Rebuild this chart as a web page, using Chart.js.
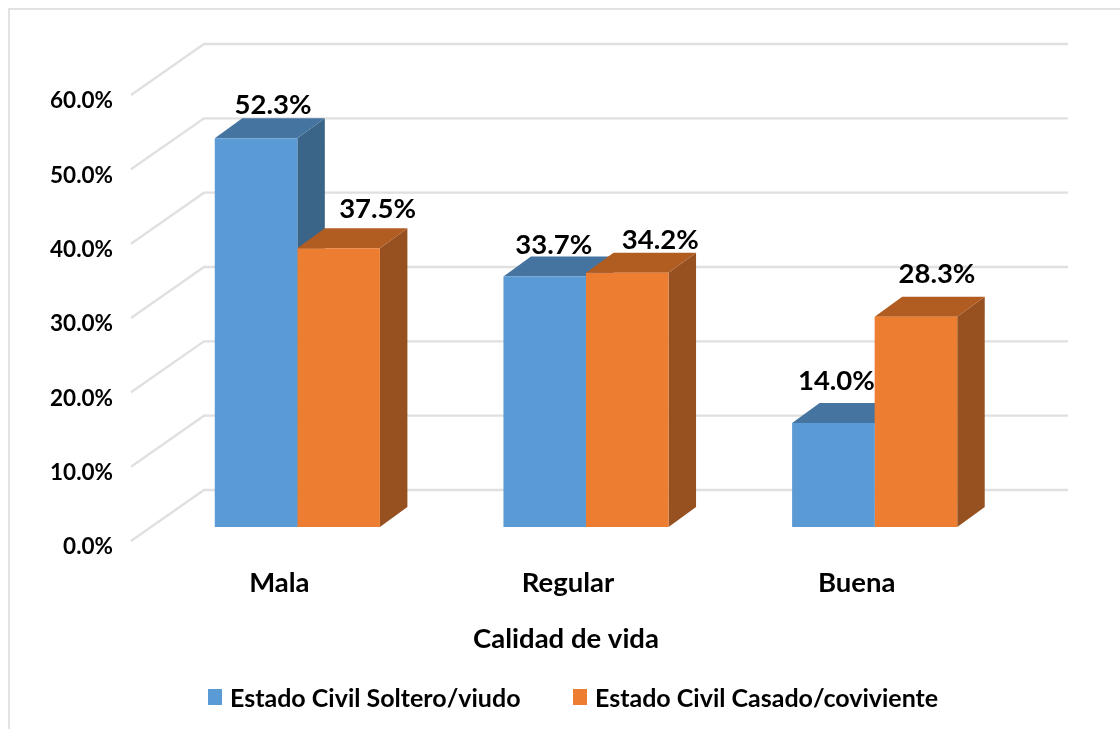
<!DOCTYPE html>
<html><head><meta charset="utf-8">
<style>html,body{margin:0;padding:0;background:#fff;overflow:hidden}#frame{position:absolute;left:8px;top:8px;right:0;bottom:0;border-left:2px solid #e2e2e2;border-top:2px solid #e2e2e2}canvas{position:absolute;left:0;top:0}</style>
<script src="https://cdn.jsdelivr.net/npm/chart.js@4"></script>
</head><body><div id="frame"></div><canvas id="c" width="1120" height="729"></canvas>
<script>
const categories = ["Mala", "Regular", "Buena"];
const seriesSoltero = [52.3, 33.7, 14.0];
const seriesCasado = [37.5, 34.2, 28.3];
const seriesNames = ["Estado Civil Soltero/viudo", "Estado Civil Casado/coviviente"];
const axisTitle = "Calidad de vida";

const FONT = "Lato, Carlito, sans-serif";
const depthX = 27.5, depthY = -20;
const wallDX = 73, wallTop = -37, wallFront = 14, wallRight = 1068;
const faces = [{top:"#44749F", side:"#3A6488"},{top:"#B15D22", side:"#975020"}];
const fronts = ["#5B9BD5", "#ED7D31"];
const legendBoxX = [208, 573];
// label nudges (dx, dy) relative to each bar's centre and top
const nudges = [[[17,-33],[9,-31],[3,-42]],[[39,-39],[33,-33],[21,-43]]];

function poly(ctx, pts, fill){
  ctx.beginPath();
  pts.forEach((p,i)=> i?ctx.lineTo(p[0],p[1]):ctx.moveTo(p[0],p[1]));
  ctx.closePath(); ctx.fillStyle = fill; ctx.fill();
}

const chart3d = {
  id:"chart3d",
  beforeDatasetsDraw(chart){
    const ctx = chart.ctx, y = chart.scales.y, x = chart.scales.x;
    ctx.save();
    ctx.strokeStyle = "#E0E0E0"; ctx.lineWidth = 2.4; ctx.lineJoin = "miter";
    y.ticks.forEach(t=>{
      const p = y.getPixelForValue(t.value);
      const wx = x.left - 22;
      ctx.beginPath();
      ctx.moveTo(wx, p + wallFront);
      ctx.lineTo(wx + wallDX, p + wallTop);
      ctx.lineTo(wallRight, p + wallTop);
      ctx.stroke();
    });
    categories.forEach((_,i)=>{
      [0,1].forEach(d=>{
        const b = chart.getDatasetMeta(d).data[i];
        const l = b.x - b.width/2, r = b.x + b.width/2, t = b.y, bt = b.base;
        poly(ctx, [[r,t],[r+depthX,t+depthY],[r+depthX,bt+depthY],[r,bt]], faces[d].side);
        poly(ctx, [[l,t],[l+depthX,t+depthY],[r+depthX,t+depthY],[r,t]], faces[d].top);
      });
    });
    ctx.restore();
  },
  afterDatasetsDraw(chart){
    const ctx = chart.ctx;
    ctx.save();
    ctx.fillStyle = "#000"; ctx.textAlign = "center"; ctx.textBaseline = "middle";
    ctx.font = "bold 27.5px " + FONT;
    chart.data.datasets.forEach((ds,d)=>{
      chart.getDatasetMeta(d).data.forEach((b,i)=>{
        ctx.fillText(ds.data[i].toFixed(1)+"%", b.x + nudges[d][i][0], b.y + nudges[d][i][1]);
      });
    });
    ctx.fillText(axisTitle, 566, 639);
    ctx.textAlign = "left";
    ctx.font = "bold 25px " + FONT;
    chart.data.datasets.forEach((ds,d)=>{
      ctx.fillStyle = fronts[d];
      ctx.fillRect(legendBoxX[d], 689, 14, 16);
      ctx.fillStyle = "#000";
      ctx.fillText(ds.label, legendBoxX[d] + 22, 699);
    });
    ctx.restore();
  }
};

new Chart(document.getElementById("c"), {
  type:"bar",
  data:{labels:categories, datasets:[
    {label:seriesNames[0], data:seriesSoltero, backgroundColor:fronts[0], barPercentage:1, categoryPercentage:0.572},
    {label:seriesNames[1], data:seriesCasado, backgroundColor:fronts[1], barPercentage:1, categoryPercentage:0.572}
  ]},
  plugins:[chart3d],
  options:{
    responsive:false, animation:false,
    layout:{padding:{left:0,right:101,top:81,bottom:0}},
    scales:{
      x:{
        afterFit(s){s.height = 202;},
        grid:{display:false,drawTicks:false}, border:{display:false},
        ticks:{color:"#000",font:{family:FONT,size:27.5,weight:"bold"},padding:40,labelOffset:-18,maxRotation:0}
      },
      y:{
        min:0,max:60,
        afterFit(s){s.width = 153;},
        grid:{display:false,drawTicks:false}, border:{display:false},
        ticks:{stepSize:10,color:"#000",font:{family:FONT,size:22.5,weight:"bold"},padding:40,labelOffset:20,
          callback:v=>v.toFixed(1)+"%"}
      }
    },
    plugins:{
      tooltip:{enabled:false},
      legend:{display:false}
    }
  }
});
</script>
</body></html>
